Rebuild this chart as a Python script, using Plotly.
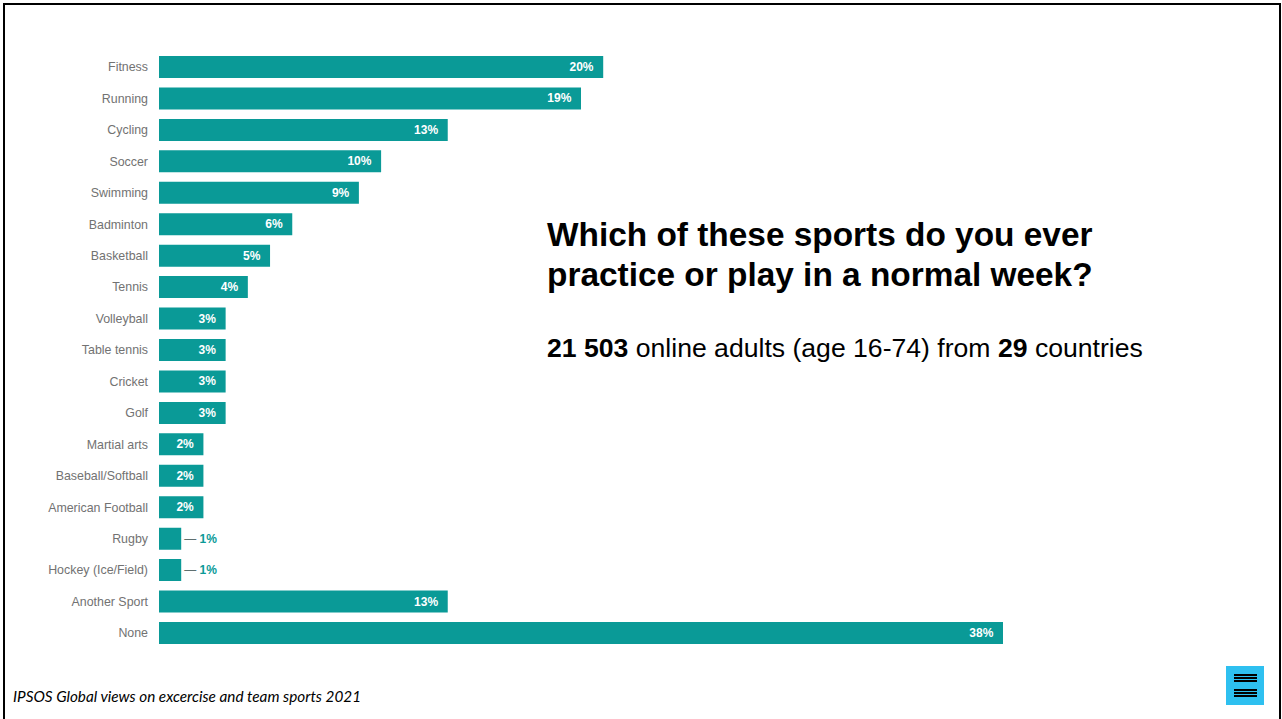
import plotly.graph_objects as go

categories = ["Fitness", "Running", "Cycling", "Soccer", "Swimming", "Badminton",
              "Basketball", "Tennis", "Volleyball", "Table tennis", "Cricket", "Golf",
              "Martial arts", "Baseball/Softball", "American Football", "Rugby",
              "Hockey (Ice/Field)", "Another Sport", "None"]
values = [20, 19, 13, 10, 9, 6, 5, 4, 3, 3, 3, 3, 2, 2, 2, 1, 1, 13, 38]

title_lines = ["Which of these sports do you ever", "practice or play in a normal week?"]
subtitle = "<b>21 503</b> online adults (age 16-74) from <b>29</b> countries"
footer = "IPSOS Global views on excercise and team sports 2021"

W, H = 1282, 719
TEAL = "#0A9A97"


def px(x):
    return x / W


def py(y):
    return 1 - y / H


texts, positions, colors = [], [], []
for v in values:
    if v <= 1:
        texts.append(f"<span style='color:#5f6f6f'>—</span> <b>{v}%</b>")
        positions.append("outside")
        colors.append(TEAL)
    else:
        texts.append(f"<b>{v}%</b>\u00a0\u00a0")
        positions.append("inside")
        colors.append("white")

fig = go.Figure(go.Bar(
    x=values, y=categories, orientation="h",
    marker=dict(color=TEAL, line=dict(width=0)),
    text=texts, textposition=positions, texttemplate="%{text}",
    insidetextanchor="end", cliponaxis=False,
    textfont=dict(family="Liberation Sans, Arial", size=12, color=colors),
    width=0.7, hoverinfo="skip",
))

fig.update_layout(
    width=W, height=H, margin=dict(l=0, r=0, t=0, b=0),
    paper_bgcolor="white", plot_bgcolor="white", showlegend=False,
    uniformtext=dict(mode=False),
    xaxis=dict(domain=[px(159), px(1003)], range=[0, 38], visible=False, fixedrange=True),
    yaxis=dict(domain=[py(648.7), py(51.3)], range=[18.5, -0.5], type="category",
               tickfont=dict(family="Liberation Sans, Arial", size=12.4, color="#727272"),
               ticks="", showline=False, showgrid=False, ticklabelstandoff=10, fixedrange=True),
    font=dict(family="Liberation Sans, Arial"),
)

ann = [
    dict(text=f"<b>{title_lines[0]}</b>", x=px(545), y=py(234)),
    dict(text=f"<b>{title_lines[1]}</b>", x=px(545), y=py(274)),
]
for a in ann:
    fig.add_annotation(xref="paper", yref="paper", xanchor="left", yanchor="middle",
                       showarrow=False, font=dict(size=33.4, color="black", family="Liberation Sans, Arial"),
                       **a)
fig.add_annotation(text=subtitle, xref="paper", yref="paper", x=px(545), y=py(348),
                   xanchor="left", yanchor="middle", showarrow=False,
                   font=dict(size=26.6, color="black", family="Liberation Sans, Arial"))
fig.add_annotation(text=f"<i>{footer}</i>", xref="paper", yref="paper", x=px(11), y=py(696),
                   xanchor="left", yanchor="middle", showarrow=False,
                   font=dict(size=15.3, color="black", family="Lato"))

# frame
fig.add_shape(type="rect", xref="paper", yref="paper", x0=px(4), x1=px(1280), y0=py(730), y1=py(4),
              line=dict(color="black", width=2), layer="above")
# menu icon
fig.add_shape(type="rect", xref="paper", yref="paper", x0=px(1226), x1=px(1264), y0=py(705), y1=py(666),
              fillcolor="#2EC0F0", line=dict(width=0))
for yy in [675, 678, 681, 690, 693, 696]:
    fig.add_shape(type="line", xref="paper", yref="paper", x0=px(1234), x1=px(1257), y0=py(yy), y1=py(yy),
                  line=dict(color="black", width=2))

fig.write_html("out.html", config={"displayModeBar": False})
